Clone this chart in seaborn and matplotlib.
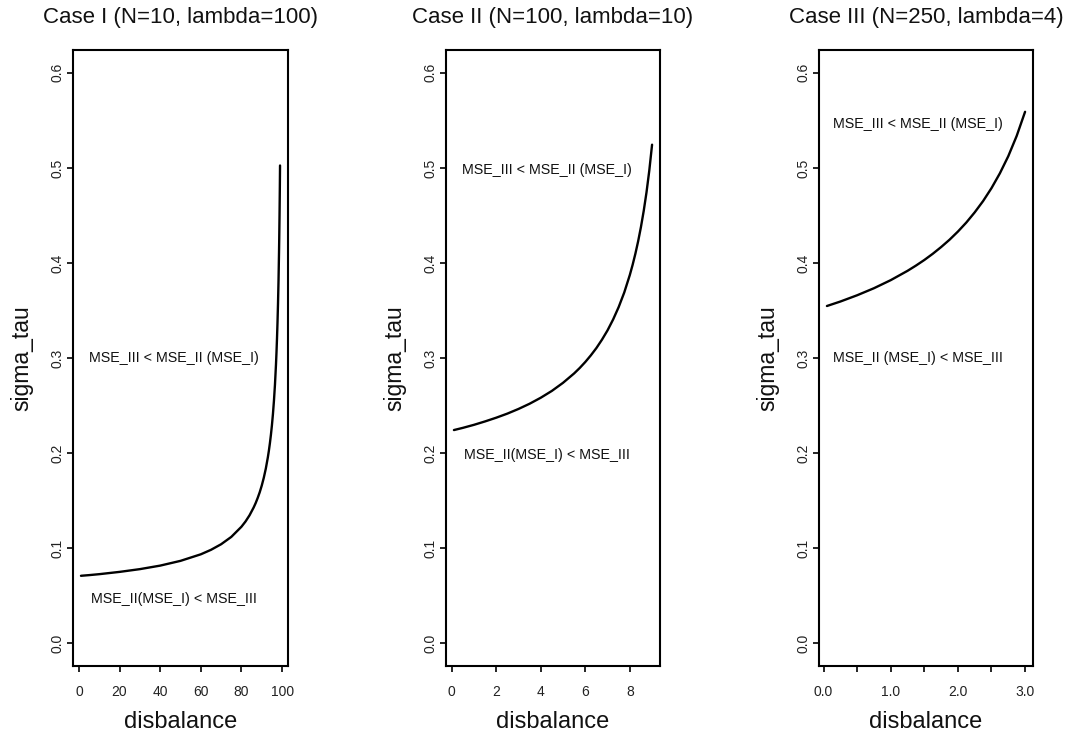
import matplotlib
matplotlib.use("Agg")
import matplotlib.pyplot as plt
import seaborn as sns
import pandas as pd

# threshold curves sigma_tau vs. disbalance for the three cases
case1_x = [1, 5, 10, 20, 30, 40, 50, 60, 65, 70, 75, 80, 82, 84, 86, 87, 88, 89, 90,
           91, 92, 93, 93.5, 94, 94.5, 95, 95.5, 96, 96.5, 97, 97.25, 97.5, 97.75,
           98, 98.25, 98.5, 98.6, 98.75, 98.9, 99]
case1_y = [0.0709, 0.0716, 0.0726, 0.0750, 0.0779, 0.0816, 0.0866, 0.0935, 0.0982,
           0.1041, 0.1118, 0.1225, 0.1280, 0.1346, 0.1427, 0.1474, 0.1528, 0.1588,
           0.1658, 0.1740, 0.1837, 0.1955, 0.2024, 0.2102, 0.2190, 0.2291, 0.2409,
           0.2550, 0.2719, 0.2930, 0.3056, 0.3202, 0.3371, 0.3571, 0.3812, 0.4113,
           0.4255, 0.4500, 0.4793, 0.5025]

case2_x = [0.1, 0.5, 1, 1.5, 2, 2.5, 3, 3.5, 4, 4.5, 5, 5.5, 5.75, 6, 6.25, 6.5,
           6.75, 7, 7.25, 7.5, 7.75, 8, 8.125, 8.25, 8.375, 8.5, 8.625, 8.75,
           8.875, 9]
case2_y = [0.2242, 0.2265, 0.2297, 0.2333, 0.2372, 0.2415, 0.2464, 0.2519, 0.2582,
           0.2654, 0.2739, 0.2838, 0.2895, 0.2958, 0.3028, 0.3105, 0.3193, 0.3291,
           0.3405, 0.3536, 0.3689, 0.3873, 0.3979, 0.4097, 0.4229, 0.4378, 0.4548,
           0.4743, 0.4972, 0.5244]

case3_x = [0.05, 0.25, 0.5, 0.75, 1, 1.25, 1.375, 1.5, 1.625, 1.75, 1.875, 2,
           2.125, 2.25, 2.375, 2.5, 2.625, 2.75, 2.875, 3]
case3_y = [0.3547, 0.3594, 0.3660, 0.3734, 0.3819, 0.3917, 0.3972, 0.4031, 0.4096,
           0.4167, 0.4244, 0.4330, 0.4425, 0.4532, 0.4651, 0.4787, 0.4943, 0.5123,
           0.5336, 0.5590]

titles = ["Case I (N=10, lambda=100)", "Case II (N=100, lambda=10)",
          "Case III (N=250, lambda=4)"]

upper_text = ["MSE_III < MSE_II (MSE_I)", "MSE_III < MSE_II (MSE_I)",
              "MSE_III < MSE_II (MSE_I)"]
lower_text = ["MSE_II(MSE_I) < MSE_III", "MSE_II(MSE_I) < MSE_III",
              "MSE_II (MSE_I) < MSE_III"]
upper_pos = [(47, 0.300), (4.27, 0.498), (1.40, 0.546)]
lower_pos = [(47, 0.047), (4.27, 0.198), (1.40, 0.300)]

x_ticks = [[0, 20, 40, 60, 80, 100], [0, 2, 4, 6, 8],
           [0, 0.5, 1, 1.5, 2, 2.5, 3]]
x_ticklabels = [["0", "20", "40", "60", "80", "100"], ["0", "2", "4", "6", "8"],
                ["0.0", "", "1.0", "", "2.0", "", "3.0"]]
y_ticks = [0, 0.1, 0.2, 0.3, 0.4, 0.5, 0.6]
y_ticklabels = ["0.0", "0.1", "0.2", "0.3", "0.4", "0.5", "0.6"]

sns.set_style("white")
plt.rcParams["font.family"] = ["Liberation Sans", "DejaVu Sans"]

W, H = 1069, 737
fig = plt.figure(figsize=(W / 100, H / 100), dpi=100)

# axes boxes in pixels: (left, right); top and bottom shared
boxes = [(73, 288), (446, 660), (819, 1033)]
top, bottom = 50, 666

curves = [(case1_x, case1_y), (case2_x, case2_y), (case3_x, case3_y)]


def padded(lo, hi, frac=0.04):
    r = hi - lo
    return lo - frac * r, hi + frac * r


for i, ((l, r), (xs, ys)) in enumerate(zip(boxes, curves)):
    ax = fig.add_axes([l / W, (H - bottom) / H, (r - l) / W, (bottom - top) / H])
    df = pd.DataFrame({"disbalance": xs, "sigma_tau": ys})
    line = sns.lineplot(data=df, x="disbalance", y="sigma_tau", ax=ax,
                        color="black", lw=1.7, estimator=None, sort=True)
    for ln in ax.lines:
        ln.set_solid_joinstyle("round")
    ax.set_xlim(*padded(min(xs), max(xs)))
    ax.set_ylim(*padded(0, 0.6))

    for s in ax.spines.values():
        s.set_visible(True)
        s.set_color("black")
        s.set_linewidth(1.5)

    ax.set_xticks(x_ticks[i])
    ax.set_xticklabels(x_ticklabels[i], fontsize=10)
    ax.set_yticks(y_ticks)
    ax.set_yticklabels(y_ticklabels, fontsize=10, rotation=90, va="center")
    ax.tick_params(axis="x", direction="out", length=4, width=1.2, pad=9.5,
                   bottom=True, colors="black")
    ax.tick_params(axis="y", direction="out", length=4, width=1.2, pad=2,
                   left=True, colors="black")
    ax.tick_params(labelcolor="#222222")

    ax.set_xlabel("disbalance", fontsize=17, color="#111111")
    ax.xaxis.set_label_coords(0.5, -(722 - bottom) / (bottom - top))
    ax.xaxis.label.set_va("center")
    ax.set_ylabel("sigma_tau", fontsize=16.5, color="#111111")
    ax.yaxis.set_label_coords(-0.24, 0.5)
    ax.yaxis.label.set_va("center")

    ax.set_title(titles[i], fontsize=16, y=1 + (top - 17) / (bottom - top),
                 va="center", pad=0, color="#111111")

    ux, uy = upper_pos[i]
    lx, ly = lower_pos[i]
    ax.text(ux, uy, upper_text[i], ha="center", va="center", fontsize=10.3,
            color="#111111")
    ax.text(lx, ly, lower_text[i], ha="center", va="center", fontsize=10.3,
            color="#111111")
    ax.grid(False)

fig.savefig("out.png", dpi=100)
